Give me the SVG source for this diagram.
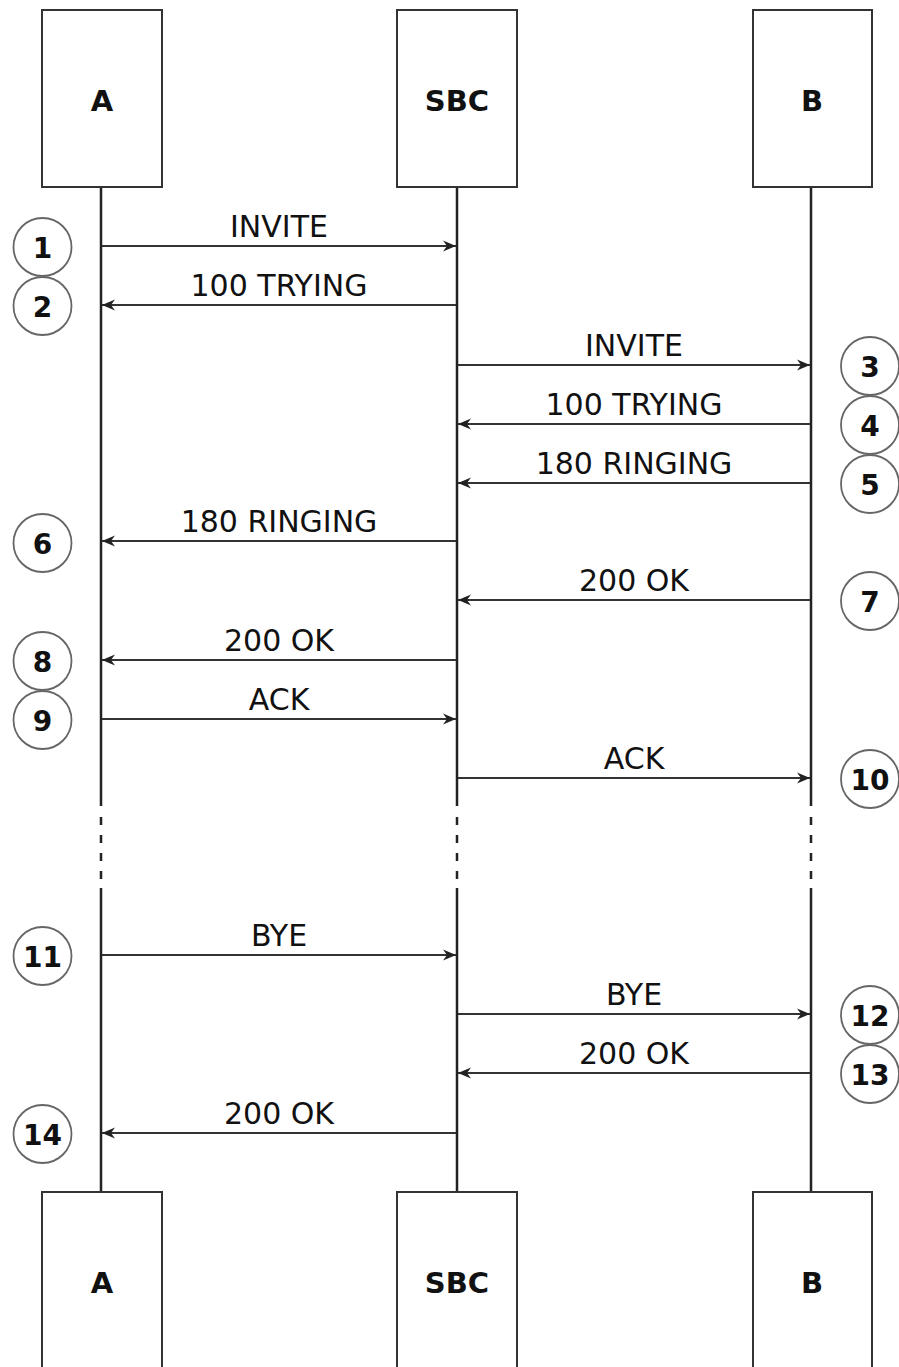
<svg xmlns="http://www.w3.org/2000/svg" width="899" height="1367" viewBox="0 0 899 1367">
<style>
.box{fill:#fff;stroke:#333;stroke-width:2}
.life{stroke:#222;stroke-width:2.5;fill:none}
.dash{stroke:#222;stroke-width:2.5;fill:none;stroke-dasharray:8 10}
.msg{stroke:#333;stroke-width:2;fill:none;marker-end:url(#ah)}
.lbl{font-family:"DejaVu Sans",Verdana,sans-serif;font-size:30px;fill:#111;text-anchor:middle}
.name{font-family:"DejaVu Sans",Verdana,sans-serif;font-size:29px;font-weight:bold;fill:#111;text-anchor:middle}
.num circle{fill:#fff;stroke:#666;stroke-width:1.8}
.num text{font-family:"DejaVu Sans",Verdana,sans-serif;font-size:28px;font-weight:bold;fill:#111;text-anchor:middle}
</style>
<defs>
<marker id="ah" markerUnits="userSpaceOnUse" markerWidth="16" markerHeight="14" viewBox="-14 -7 16 14" refX="0" refY="0" orient="auto">
<path d="M0,0 L-13,-5.5 L-9,0 L-13,5.5 Z" fill="#222"/>
</marker>
</defs>
<g id="lifelines">
<path class="life" d="M101,187 V806 M101,888 V1192"/>
<path class="dash" d="M101,817 V888"/>
<path class="life" d="M457,187 V806 M457,888 V1192"/>
<path class="dash" d="M457,817 V888"/>
<path class="life" d="M811,187 V806 M811,888 V1192"/>
<path class="dash" d="M811,817 V888"/>
</g>
<g id="node-A-top"><rect class="box" x="42" y="10" width="120" height="177"/><text class="name" x="102" y="111">A</text></g>
<g id="node-SBC-top"><rect class="box" x="397" y="10" width="120" height="177"/><text class="name" x="457" y="111">SBC</text></g>
<g id="node-B-top"><rect class="box" x="753" y="10" width="119" height="177"/><text class="name" x="812" y="111">B</text></g>
<g id="node-A-bottom"><rect class="box" x="42" y="1192" width="120" height="177"/><text class="name" x="102" y="1293">A</text></g>
<g id="node-SBC-bottom"><rect class="box" x="397" y="1192" width="120" height="177"/><text class="name" x="457" y="1293">SBC</text></g>
<g id="node-B-bottom"><rect class="box" x="753" y="1192" width="119" height="177"/><text class="name" x="812" y="1293">B</text></g>
<g id="connectors">
<line class="msg" x1="102" y1="246" x2="456" y2="246"/><text class="lbl" x="279" y="237">INVITE</text>
<line class="msg" x1="456" y1="305" x2="102" y2="305"/><text class="lbl" x="279" y="296">100 TRYING</text>
<line class="msg" x1="458" y1="365" x2="810" y2="365"/><text class="lbl" x="634" y="356">INVITE</text>
<line class="msg" x1="810" y1="424" x2="458" y2="424"/><text class="lbl" x="634" y="415">100 TRYING</text>
<line class="msg" x1="810" y1="483" x2="458" y2="483"/><text class="lbl" x="634" y="474">180 RINGING</text>
<line class="msg" x1="456" y1="541" x2="102" y2="541"/><text class="lbl" x="279" y="532">180 RINGING</text>
<line class="msg" x1="810" y1="600" x2="458" y2="600"/><text class="lbl" x="634" y="591">200 OK</text>
<line class="msg" x1="456" y1="660" x2="102" y2="660"/><text class="lbl" x="279" y="651">200 OK</text>
<line class="msg" x1="102" y1="719" x2="456" y2="719"/><text class="lbl" x="279" y="710">ACK</text>
<line class="msg" x1="458" y1="778" x2="810" y2="778"/><text class="lbl" x="634" y="769">ACK</text>
<line class="msg" x1="102" y1="955" x2="456" y2="955"/><text class="lbl" x="279" y="946">BYE</text>
<line class="msg" x1="458" y1="1014" x2="810" y2="1014"/><text class="lbl" x="634" y="1005">BYE</text>
<line class="msg" x1="810" y1="1073" x2="458" y2="1073"/><text class="lbl" x="634" y="1064">200 OK</text>
<line class="msg" x1="456" y1="1133" x2="102" y2="1133"/><text class="lbl" x="279" y="1124">200 OK</text>
</g>
<g id="step-1" class="num"><circle cx="42.5" cy="247" r="29"/><text x="42.5" y="257.5">1</text></g>
<g id="step-2" class="num"><circle cx="42.5" cy="306" r="29"/><text x="42.5" y="316.5">2</text></g>
<g id="step-3" class="num"><circle cx="870" cy="366" r="29"/><text x="870" y="376.5">3</text></g>
<g id="step-4" class="num"><circle cx="870" cy="425" r="29"/><text x="870" y="435.5">4</text></g>
<g id="step-5" class="num"><circle cx="870" cy="484" r="29"/><text x="870" y="494.5">5</text></g>
<g id="step-6" class="num"><circle cx="42.5" cy="543" r="29"/><text x="42.5" y="553.5">6</text></g>
<g id="step-7" class="num"><circle cx="870" cy="601" r="29"/><text x="870" y="611.5">7</text></g>
<g id="step-8" class="num"><circle cx="42.5" cy="661" r="29"/><text x="42.5" y="671.5">8</text></g>
<g id="step-9" class="num"><circle cx="42.5" cy="720" r="29"/><text x="42.5" y="730.5">9</text></g>
<g id="step-10" class="num"><circle cx="870" cy="779" r="29"/><text x="870" y="789.5">10</text></g>
<g id="step-11" class="num"><circle cx="42.5" cy="956" r="29"/><text x="42.5" y="966.5">11</text></g>
<g id="step-12" class="num"><circle cx="870" cy="1015" r="29"/><text x="870" y="1025.5">12</text></g>
<g id="step-13" class="num"><circle cx="870" cy="1074" r="29"/><text x="870" y="1084.5">13</text></g>
<g id="step-14" class="num"><circle cx="42.5" cy="1134" r="29"/><text x="42.5" y="1144.5">14</text></g>
</svg>
